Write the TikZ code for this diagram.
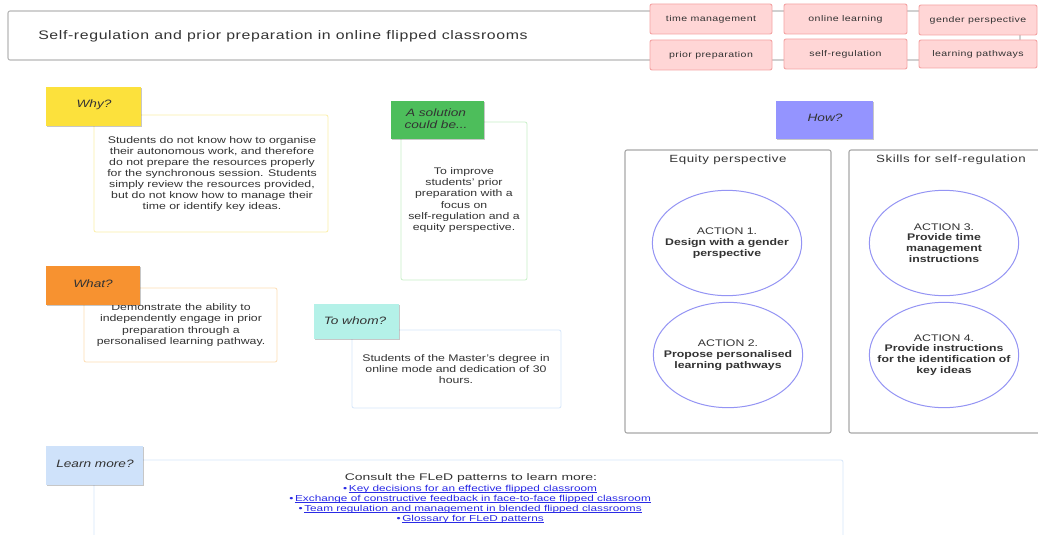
\documentclass[tikz,border=0pt]{standalone}
\usepackage{fontspec}
\setmainfont{Liberation Sans}[FakeStretch=1.28]
\newfontfamily\titlefont{Liberation Sans}[FakeStretch=1.28,LetterSpace=5]
\newfontfamily\learnfont{Liberation Sans}[FakeStretch=1.45]
\newfontfamily\linkfont{Liberation Sans}[FakeStretch=1.36]
\usetikzlibrary{fit,shadows,shapes.geometric}
\definecolor{textgray}{HTML}{333333}
\definecolor{titleborder}{HTML}{B8B8B8}
\definecolor{tagfill}{HTML}{FFD6D6}
\definecolor{tagborder}{HTML}{F4A4A4}
\definecolor{yellowL}{HTML}{FCE13C}
\definecolor{yellowB}{HTML}{FBEFA9}
\definecolor{greenL}{HTML}{4DBE5B}
\definecolor{greenB}{HTML}{C8F0C8}
\definecolor{orangeL}{HTML}{F79230}
\definecolor{orangeB}{HTML}{FDDDB5}
\definecolor{tealL}{HTML}{B4F1E8}
\definecolor{blueB}{HTML}{D6E6FA}
\definecolor{purpleL}{HTML}{9494FF}
\definecolor{learnL}{HTML}{CFE2FA}
\definecolor{panelgray}{HTML}{A8A8A8}
\definecolor{ellblue}{HTML}{9494F4}
\definecolor{linkblue}{HTML}{2A2AE6}
\begin{document}
\begin{tikzpicture}[x=0.75pt,y=-0.75pt,
  titlebox/.style={draw=titleborder, fill=white, rounded corners=1.5pt, line width=0.8pt, inner sep=0pt},
  tagbox/.style={draw=tagborder, fill=tagfill, rounded corners=1.5pt, inner sep=0pt, line width=0.7pt},
  tagtext/.style={inner sep=0pt, font=\titlefont\fontsize{6.2}{7}\selectfont, text=textgray},
  labelbox/.style={inner sep=0pt,
    drop shadow={shadow xshift=0.8pt, shadow yshift=-0.8pt, opacity=0.22, fill=black}},
  labeltext/.style={inner sep=0pt, align=center, text=textgray, font=\itshape\fontsize{8}{9.2}\selectfont},
  bodybox/.style={draw, fill=white, rounded corners=1.5pt, line width=0.6pt, inner sep=0pt},
  bodytext/.style={inner sep=0pt, align=center, text=textgray, font=\fontsize{7.2}{8.3}\selectfont},
  panel/.style={draw=panelgray, fill=white, rounded corners=1.5pt, line width=0.8pt, inner sep=0pt},
  paneltitle/.style={inner sep=0pt, text=textgray, font=\titlefont\fontsize{7.8}{9}\selectfont},
  action/.style={ellipse, draw=ellblue, fill=white, line width=0.75pt, inner sep=0pt,
    minimum width=112pt, minimum height=79pt},
  acttext/.style={inner sep=0pt, align=center, text=textgray, font=\fontsize{7.2}{8.1}\selectfont},
  learntext/.style={inner sep=0pt, anchor=base, text=textgray, font=\learnfont\fontsize{7.2}{7.75}\selectfont},
  linktext/.style={inner sep=0pt, anchor=base, text=linkblue, font=\linkfont\fontsize{6.5}{7.5}\selectfont},
  bullet/.style={inner sep=0pt, anchor=base east, text=linkblue, font=\linkfont\fontsize{6.5}{7.5}\selectfont},
  uline/.style={draw=linkblue, line width=0.45pt},
]
\useasboundingbox (0,0) rectangle (1038,535);
\fill[white] (0,0) rectangle (1038,535);

% title bar
\node[titlebox, fit={(8,11)(1020,60)}] (titlebar) {};
\node[anchor=west, inner sep=0pt, text=textgray, font=\titlefont\fontsize{9.3}{10}\selectfont] (title) at (38,36)
  {Self-regulation and prior preparation in online flipped classrooms};

% tags
\node[tagbox, fit={(650,4)(772,34)}] (t1) {};
\node[tagtext] at (t1.center) {time management};
\node[tagbox, fit={(784,4)(907,34)}] (t2) {};
\node[tagtext] at (t2.center) {online learning};
\node[tagbox, fit={(919,5)(1037,35)}] (t3) {};
\node[tagtext] at (t3.center) {gender perspective};
\node[tagbox, fit={(650,40)(772,70)}] (t4) {};
\node[tagtext] at (t4.center) {prior preparation};
\node[tagbox, fit={(784,39)(907,69)}] (t5) {};
\node[tagtext] at (t5.center) {self-regulation};
\node[tagbox, fit={(919,40)(1037,68)}] (t6) {};
\node[tagtext] at (t6.center) {learning pathways};

% Why?
\node[bodybox, draw=yellowB, fit={(94,115)(328,232)}] (whyb) {};
\node[bodytext] at (212,174)
  {Students do not know how to organise\\their autonomous work, and therefore\\do not prepare the resources properly\\for the synchronous session. Students\\simply review the resources provided,\\but do not know how to manage their\\time or identify key ideas.};
\node[labelbox, fill=yellowL, fit={(46,87)(141,126)}] (why) {};
\node[labeltext] at (94,105) {Why?};

% A solution could be...
\node[bodybox, draw=greenB, fit={(401,122)(527,280)}] (solb) {};
\node[bodytext] at (464,200)
  {To improve\\students' prior\\preparation with a\\focus on\\self-regulation and a\\equity perspective.};
\node[labelbox, fill=greenL, fit={(391,101)(484,139)}] (sol) {};
\node[labeltext] at (436,119) {A solution\\could be...};

% What?
\node[bodybox, draw=orangeB, fit={(84,288)(277,362)}] (whatb) {};
\node[bodytext] at (181,325)
  {Demonstrate the ability to\\independently engage in prior\\preparation through a\\personalised learning pathway.};
\node[labelbox, fill=orangeL, fit={(46,266)(140,305)}] (what) {};
\node[labeltext] at (93,284) {What?};

% To whom?
\node[bodybox, draw=blueB, fit={(352,330)(561,408)}] (whomb) {};
\node[bodytext] at (456,369)
  {Students of the Master’s degree in\\online mode and dedication of 30\\hours.};
\node[labelbox, fill=tealL, fit={(314,304)(399,339)}] (whom) {};
\node[labeltext] at (355,321) {To whom?};

% How?
\node[labelbox, fill=purpleL, fit={(776,101)(873,139)}] (how) {};
\node[labeltext] at (825,118) {How?};

% panels
\node[panel, fit={(625,150)(831,433)}] (equity) {};
\node[paneltitle] (eqt) at (728,160) {Equity perspective};
\node[panel, fit={(849,150)(1060,433)}] (skills) {};
\node[paneltitle] (skt) at (951,160) {Skills for self-regulation};

% actions
\node[action] (a1) at (727,243) {};
\node[acttext] (a1t) at (a1.center) {ACTION 1.\\\textbf{Design with a gender}\\\textbf{perspective}};
\node[action] (a2) at (728,355) {};
\node[acttext] (a2t) at (a2.center) {ACTION 2.\\\textbf{Propose personalised}\\\textbf{learning pathways}};
\node[action] (a3) at (944,243) {};
\node[acttext] (a3t) at (a3.center) {ACTION 3.\\\textbf{Provide time}\\\textbf{management}\\\textbf{instructions}};
\node[action] (a4) at (944,355) {};
\node[acttext] (a4t) at (a4.center) {ACTION 4.\\\textbf{Provide instructions}\\\textbf{for the identification of}\\\textbf{key ideas}};

% Learn more?
\node[bodybox, draw=blueB, fit={(94,460)(843,560)}] (learnb) {};
\node[labelbox, fill=learnL, fit={(46,446)(143,485)}] (learn) {};
\node[labeltext] at (95,464) {Learn more?};
\node[learntext] (lt0) at (471,480) {Consult the FLeD patterns to learn more:};
\node[linktext] (lk1) at (473,491) {Key decisions for an effective flipped classroom\ };
\node[linktext] (lk2) at (473,501) {Exchange of constructive feedback in face-to-face flipped classroom};
\node[linktext] (lk3) at (473,511) {Team regulation and management in blended flipped classrooms};
\node[linktext] (lk4) at (473,521) {Glossary for FLeD patterns};
\foreach \k in {1,2,3,4}{
  \node[bullet] (b\k) at ([xshift=-0.8pt]lk\k.base west) {•};
  \draw[uline] ([yshift=-1.1pt]lk\k.base west) -- ([yshift=-1.1pt]lk\k.base east);
}
\end{tikzpicture}
\end{document}
